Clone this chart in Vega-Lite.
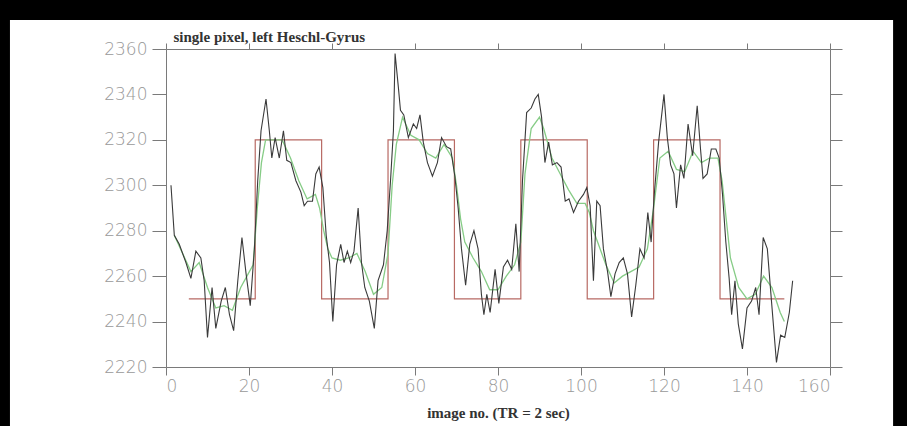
{
  "$schema": "https://vega.github.io/schema/vega-lite/v6.json",
  "width": 664,
  "height": 318,
  "autosize": {"type": "none"},
  "padding": {"left": 166, "top": 49, "right": 77, "bottom": 59},
  "background": "#000000",
  "config": {
    "view": {"stroke": null},
    "axis": {"domainColor": "#7a7a7a", "tickColor": "#7a7a7a", "domainWidth": 1, "tickWidth": 1, "grid": false,
      "labelFont": "DejaVu Sans", "labelFontWeight": 300, "labelFontSize": 17, "labelColor": "#999999", "format": "d"}
  },
  "datasets": {
    "raw": [
      {"n":1.2,"s":2300},{"n":2,"s":2278},{"n":3.2,"s":2274},{"n":4.8,"s":2266},{"n":6,"s":2259},{"n":7.2,"s":2271},{"n":8.4,"s":2268},{"n":9.2,"s":2258},{"n":10,"s":2233},{"n":11.1,"s":2255},{"n":12,"s":2237},{"n":13.3,"s":2249},{"n":14.3,"s":2255},{"n":15.3,"s":2243},{"n":16.3,"s":2236},{"n":17.3,"s":2258},{"n":18.3,"s":2277},{"n":19.3,"s":2261},{"n":20.3,"s":2247},{"n":21.3,"s":2272},{"n":22.1,"s":2302},{"n":22.9,"s":2324},{"n":24.1,"s":2338},{"n":24.9,"s":2324},{"n":25.5,"s":2312},{"n":26.3,"s":2321},{"n":27.3,"s":2312},{"n":28.3,"s":2324},{"n":29.1,"s":2311},{"n":30.1,"s":2310},{"n":31.3,"s":2302},{"n":32.5,"s":2297},{"n":33.3,"s":2291},{"n":34.1,"s":2293},{"n":35.3,"s":2293},{"n":36.1,"s":2305},{"n":36.9,"s":2308},{"n":37.8,"s":2299},{"n":38.6,"s":2278},{"n":39.4,"s":2266},{"n":40.2,"s":2240},{"n":41.1,"s":2265},{"n":42.1,"s":2274},{"n":42.9,"s":2266},{"n":43.7,"s":2271},{"n":44.5,"s":2266},{"n":45.3,"s":2271},{"n":46.3,"s":2290},{"n":47.1,"s":2266},{"n":47.9,"s":2255},{"n":49,"s":2249},{"n":50.2,"s":2237},{"n":51.1,"s":2258},{"n":52.4,"s":2265},{"n":53.3,"s":2280},{"n":54.1,"s":2302},{"n":54.8,"s":2324},{"n":55.2,"s":2358},{"n":56,"s":2343},{"n":56.5,"s":2333},{"n":57.3,"s":2331},{"n":58.4,"s":2321},{"n":59.6,"s":2327},{"n":60.4,"s":2325},{"n":61.2,"s":2331},{"n":62,"s":2319},{"n":63,"s":2310},{"n":64.2,"s":2304},{"n":65.4,"s":2310},{"n":66.4,"s":2321},{"n":67.6,"s":2317},{"n":68.6,"s":2316},{"n":69.6,"s":2304},{"n":70.4,"s":2290},{"n":71.2,"s":2272},{"n":72.2,"s":2256},{"n":73.2,"s":2274},{"n":74.2,"s":2280},{"n":75.2,"s":2272},{"n":76,"s":2252},{"n":76.6,"s":2243},{"n":77.3,"s":2252},{"n":78.1,"s":2244},{"n":79.3,"s":2263},{"n":80.2,"s":2248},{"n":81.3,"s":2264},{"n":82.3,"s":2267},{"n":83.3,"s":2263},{"n":84.3,"s":2283},{"n":85.1,"s":2262},{"n":85.9,"s":2302},{"n":86.9,"s":2332},{"n":88,"s":2334},{"n":88.9,"s":2338},{"n":89.7,"s":2340},{"n":90.5,"s":2330},{"n":91.3,"s":2310},{"n":92.2,"s":2319},{"n":93.1,"s":2309},{"n":94.2,"s":2310},{"n":95.2,"s":2308},{"n":96.2,"s":2293},{"n":97.1,"s":2294},{"n":98.2,"s":2288},{"n":99.4,"s":2293},{"n":100.6,"s":2296},{"n":101.4,"s":2299},{"n":102.2,"s":2291},{"n":103,"s":2258},{"n":103.8,"s":2293},{"n":104.6,"s":2291},{"n":105.4,"s":2272},{"n":106.4,"s":2262},{"n":107.2,"s":2251},{"n":108.2,"s":2261},{"n":109.2,"s":2266},{"n":110.2,"s":2268},{"n":111.2,"s":2261},{"n":112.2,"s":2242},{"n":113.2,"s":2256},{"n":114.2,"s":2272},{"n":115.2,"s":2268},{"n":116.1,"s":2288},{"n":116.9,"s":2275},{"n":117.7,"s":2297},{"n":118.7,"s":2319},{"n":120,"s":2340},{"n":120.8,"s":2321},{"n":121.6,"s":2309},{"n":122.4,"s":2305},{"n":123,"s":2290},{"n":124,"s":2309},{"n":124.8,"s":2303},{"n":125.8,"s":2327},{"n":126.9,"s":2313},{"n":128,"s":2335},{"n":128.8,"s":2316},{"n":129.4,"s":2303},{"n":130.4,"s":2305},{"n":131.4,"s":2316},{"n":132.5,"s":2316},{"n":133.3,"s":2312},{"n":134.1,"s":2296},{"n":134.9,"s":2275},{"n":135.7,"s":2259},{"n":136.3,"s":2243},{"n":137.1,"s":2258},{"n":137.9,"s":2239},{"n":138.9,"s":2228},{"n":140,"s":2246},{"n":141.1,"s":2249},{"n":142.1,"s":2255},{"n":142.9,"s":2243},{"n":143.9,"s":2277},{"n":144.9,"s":2272},{"n":145.9,"s":2249},{"n":147.1,"s":2222},{"n":148.1,"s":2234},{"n":149.1,"s":2233},{"n":150.2,"s":2244},{"n":151,"s":2258}
    ],
    "smooth": [
      {"n":2,"s":2278},{"n":4,"s":2270},{"n":6,"s":2262},{"n":8,"s":2266},{"n":10,"s":2255},{"n":12,"s":2246},{"n":14,"s":2247},{"n":16,"s":2245},{"n":18,"s":2255},{"n":19.5,"s":2260},{"n":21,"s":2265},{"n":22,"s":2290},{"n":23,"s":2310},{"n":24,"s":2320},{"n":26,"s":2320},{"n":28,"s":2320},{"n":30,"s":2312},{"n":32,"s":2302},{"n":34,"s":2294},{"n":36,"s":2296},{"n":37,"s":2290},{"n":38,"s":2280},{"n":39,"s":2272},{"n":40,"s":2268},{"n":42,"s":2267},{"n":44,"s":2268},{"n":46,"s":2270},{"n":48,"s":2262},{"n":50,"s":2252},{"n":52,"s":2255},{"n":53.5,"s":2270},{"n":54.5,"s":2300},{"n":55.5,"s":2318},{"n":57,"s":2330},{"n":59,"s":2322},{"n":61,"s":2320},{"n":63,"s":2314},{"n":65,"s":2312},{"n":67,"s":2318},{"n":69,"s":2312},{"n":70,"s":2300},{"n":71,"s":2285},{"n":72,"s":2275},{"n":74,"s":2268},{"n":76,"s":2262},{"n":78,"s":2254},{"n":80,"s":2254},{"n":82,"s":2260},{"n":84,"s":2265},{"n":85.5,"s":2275},{"n":86.5,"s":2305},{"n":88,"s":2325},{"n":90,"s":2330},{"n":91,"s":2325},{"n":93,"s":2312},{"n":95,"s":2305},{"n":97,"s":2298},{"n":99,"s":2292},{"n":101,"s":2292},{"n":102,"s":2288},{"n":103,"s":2280},{"n":104,"s":2275},{"n":106,"s":2265},{"n":108,"s":2257},{"n":110,"s":2260},{"n":112,"s":2262},{"n":114,"s":2264},{"n":116,"s":2272},{"n":117.5,"s":2290},{"n":119,"s":2312},{"n":121,"s":2315},{"n":123,"s":2307},{"n":125,"s":2306},{"n":127,"s":2315},{"n":129,"s":2310},{"n":131,"s":2312},{"n":133,"s":2312},{"n":134,"s":2302},{"n":135,"s":2285},{"n":136,"s":2268},{"n":138,"s":2255},{"n":140,"s":2250},{"n":142,"s":2252},{"n":144,"s":2260},{"n":146,"s":2255},{"n":148,"s":2244},{"n":149,"s":2240}
    ],
    "box": [
      {"n":5.5,"s":2250},{"n":21.5,"s":2320},{"n":37.5,"s":2250},{"n":53.5,"s":2320},{"n":69.5,"s":2250},{"n":85.5,"s":2320},{"n":101.5,"s":2250},{"n":117.5,"s":2320},{"n":133.5,"s":2250},{"n":149,"s":2250}
    ],
    "frame": [{"x0": -37.6, "x1": 175.2, "y0": 2190, "y1": 2372.8}]
  },
  "resolve": {"axis": {"x": "independent", "y": "independent"}},
  "layer": [
    {
      "data": {"name": "frame"},
      "mark": {"type": "rect", "color": "#ffffff", "clip": false},
      "encoding": {
        "x": {"field": "x0", "type": "quantitative", "scale": {"domain": [0, 160], "nice": false, "zero": false},
          "axis": {"orient": "top", "zindex": 2, "values": [0,20,40,60,80,100,120,140,160], "labels": false, "tickSize": 6,
            "title": "single pixel, left Heschl-Gyrus", "titleX": 7, "titleY": -8, "titleAlign": "left", "titleBaseline": "alphabetic",
            "titleFont": "Liberation Serif", "titleFontWeight": "bold", "titleFontSize": 15, "titleColor": "#333333"}},
        "x2": {"field": "x1"},
        "y": {"field": "y0", "type": "quantitative", "scale": {"domain": [2220, 2360], "nice": false, "zero": false},
          "axis": {"orient": "right", "zindex": 2, "values": [2220,2240,2260,2280,2300,2320,2340,2360], "labels": false, "title": null, "tickSize": 12}},
        "y2": {"field": "y1"}
      }
    },
    {
      "data": {"name": "box"},
      "mark": {"type": "line", "interpolate": "step-after", "color": "#b86a64", "strokeWidth": 1.2},
      "encoding": {
        "x": {"field": "n", "type": "quantitative", "scale": {"domain": [0, 160], "nice": false, "zero": false},
          "axis": {"orient": "bottom", "zindex": 2, "values": [0,20,40,60,80,100,120,140,160], "tickSize": 8, "labelPadding": 3,
            "title": "image no. (TR = 2 sec)", "titleFont": "Liberation Serif", "titleFontWeight": "bold", "titleFontSize": 15, "titleColor": "#333333", "titlePadding": 11}},
        "y": {"field": "s", "type": "quantitative", "scale": {"domain": [2220, 2360], "nice": false, "zero": false},
          "axis": {"orient": "left", "zindex": 2, "values": [2220,2240,2260,2280,2300,2320,2340,2360], "tickSize": 14, "labelPadding": 5, "title": null}}
      }
    },
    {
      "data": {"name": "smooth"},
      "mark": {"type": "line", "color": "#86cc86", "strokeWidth": 1.3},
      "encoding": {
        "x": {"field": "n", "type": "quantitative"},
        "y": {"field": "s", "type": "quantitative"}
      }
    },
    {
      "data": {"name": "raw"},
      "mark": {"type": "line", "color": "#3a3a3a", "strokeWidth": 1.1},
      "encoding": {
        "x": {"field": "n", "type": "quantitative"},
        "y": {"field": "s", "type": "quantitative"}
      }
    }
  ]
}
